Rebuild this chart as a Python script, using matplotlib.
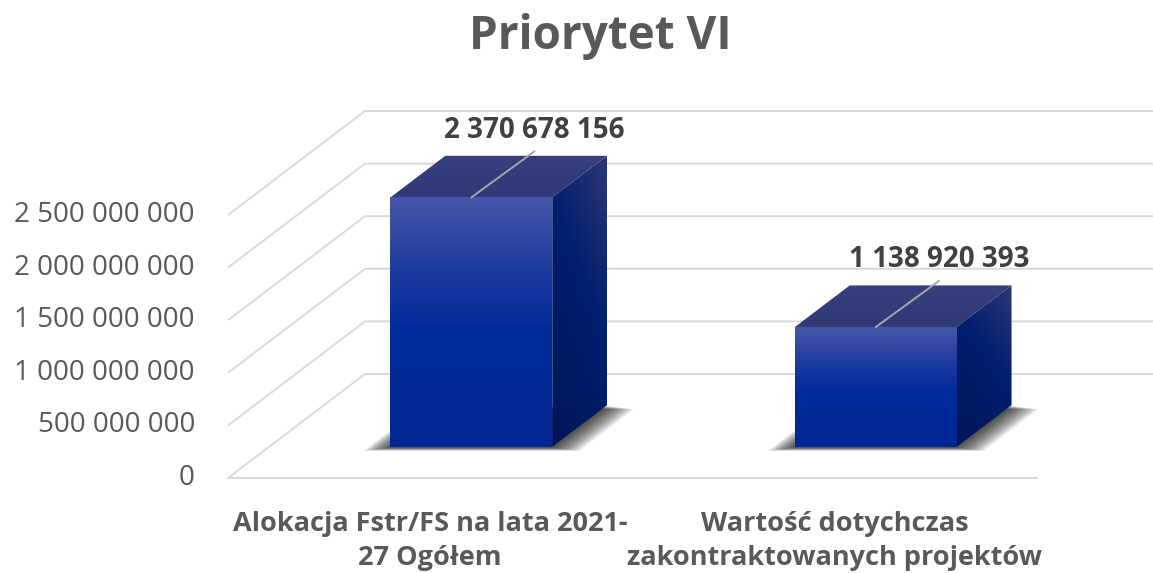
import numpy as np
import matplotlib.pyplot as plt
from matplotlib.patches import Polygon

plt.rcParams['font.family'] = ['Open Sans', 'DejaVu Sans']

title = "Priorytet VI"
categories = ["Alokacja Fstr/FS na lata 2021-\n27 Ogółem",
              "Wartość dotychczas\nzakontraktowanych projektów"]
values = [2370678156, 1138920393]
yticks = [0, 500000000, 1000000000, 1500000000, 2000000000, 2500000000]

W, H = 1153, 573
X0_PX, XU = 228, 404.5          # front floor left edge, px per category
Y0_PX, YU = 478, 263 / 2.5e9    # floor line, px per value unit
DX, DY = 137 / XU, 104 / YU     # depth of the fake 3d box
BAR_W = 0.2                     # half width of a bar
F, B = 0.3, 0.7                 # front / back depth of the bars

GRID = '#d9d9d9'
TXT = '#595959'


def fmt(v):
    return "{:,}".format(v).replace(",", " ")


def gradient_face(ax, pts, stops, direction='v', z=3):
    pts = np.array(pts)
    poly = Polygon(pts, closed=True, facecolor='none', edgecolor='none', transform=ax.transData)
    ax.add_patch(poly)
    pos = np.array([s[0] for s in stops])
    cols = np.array([s[1] for s in stops]) / 255.0
    t = np.linspace(0, 1, 200)
    if direction == 'v':
        grid = np.tile(t[:, None], (1, 50))
    else:
        tt, uu = np.meshgrid(np.linspace(0, 1, 100), np.linspace(0, 1, 200))
        grid = np.clip(0.75 * uu + 0.35 * (1 - tt), 0, 1)
    img = np.stack([np.interp(grid, pos, cols[:, k]) for k in range(3)], axis=-1)
    im = ax.imshow(img, extent=(pts[:, 0].min(), pts[:, 0].max(), pts[:, 1].min(), pts[:, 1].max()),
                   origin='upper', aspect='auto', zorder=z, interpolation='bilinear')
    im.set_clip_path(poly)


fig = plt.figure(figsize=(W / 100, H / 100), dpi=100)
ax = fig.add_axes([0, 0, 1, 1])
ax.axis('off')

# walls / gridlines
for t in yticks:
    ax.plot([0, DX, 2 + DX], [t, t + DY, t + DY], color=GRID, lw=1.4, zorder=1,
            solid_capstyle='butt')
    ax.text(-33 / XU, t, fmt(t), ha='right', va='center', fontsize=20, color=TXT)
ax.plot([0, 2], [0, 0], color=GRID, lw=1.4, zorder=1)

front_stops = [(0.0, (0x47, 0x57, 0xa8)), (0.3, (0x1c, 0x3a, 0xa0)),
               (0.55, (0x00, 0x2b, 0x9b)), (1.0, (0x00, 0x28, 0x94))]
top_stops = [(0.0, (0x36, 0x40, 0x7e)), (1.0, (0x30, 0x3a, 0x78))]
side_stops = [(0.0, (0x2e, 0x38, 0x74)), (0.45, (0x03, 0x1f, 0x70)), (1.0, (0x00, 0x17, 0x5c))]

for i, v in enumerate(values):
    c = i + 0.5
    xl_f, xr_f = c - BAR_W + F * DX, c + BAR_W + F * DX
    xl_b, xr_b = c - BAR_W + B * DX, c + BAR_W + B * DX
    yf, yb = F * DY, B * DY

    # soft shadow on the floor
    for k in range(14):
        e = (27 - 2 * k) / XU
        d = (4 - 0.25 * k) / YU
        sh = Polygon([(xl_f - e, yf - d), (xr_f + e, yf - d), (xr_b + e, yb - d), (xl_b - e, yb - d)],
                     closed=True, facecolor='black', edgecolor='none', alpha=0.075, zorder=2)
        ax.add_patch(sh)

    gradient_face(ax, [(xl_f, yf), (xr_f, yf), (xr_f, yf + v), (xl_f, yf + v)], front_stops, 'v')
    gradient_face(ax, [(xl_f, yf + v), (xr_f, yf + v), (xr_b, yb + v), (xl_b, yb + v)], top_stops, 'v')
    gradient_face(ax, [(xr_f, yf), (xr_b, yb), (xr_b, yb + v), (xr_f, yf + v)], side_stops, 'd')

    # leader line and data label
    x0, y0 = c + F * DX, v + F * DY
    x1, y1 = x0 + 63 / XU, y0 + 46 / YU
    ax.plot([x0, x1], [y0, y1], color='#a6a6a6', lw=1.4, zorder=4)
    ax.text(x1, y1 + 21 / YU, fmt(v), ha='center', va='center', fontsize=20,
            fontweight='bold', color='#404040', zorder=5)

    ax.text(c, -63 / YU, categories[i], ha='center', va='center', fontsize=19.5,
            fontweight='bold', color=TXT, linespacing=1.4)

fig.text(600 / W, 1 - 36 / H, title, ha='center', va='center', fontsize=33,
         fontweight='bold', color=TXT)

ax.set_xlim(-X0_PX / XU, (W - X0_PX) / XU)
ax.set_ylim(-(H - Y0_PX) / YU, Y0_PX / YU)
ax.set_aspect('auto')

fig.savefig('out.png', dpi=100)
